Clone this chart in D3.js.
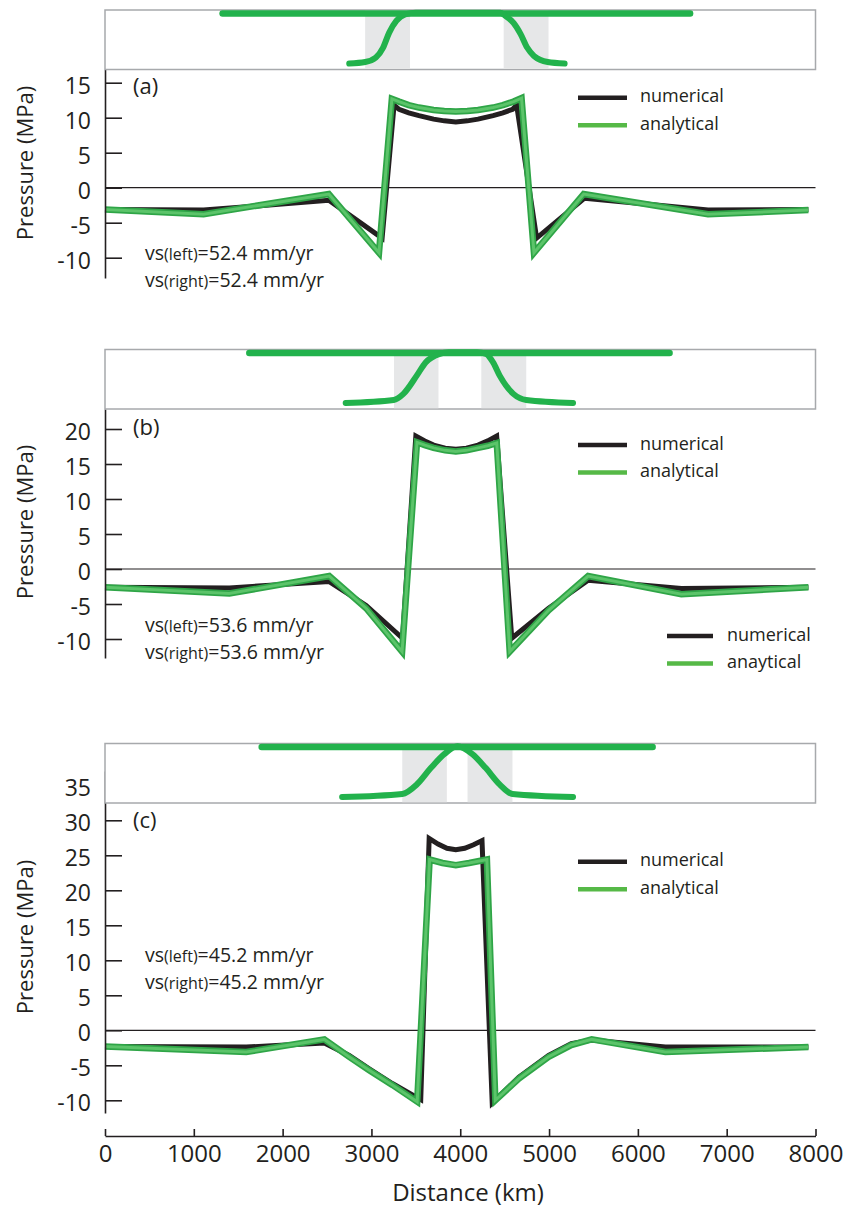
<!DOCTYPE html>
<html>
<head>
<meta charset="utf-8">
<script src="https://cdn.jsdelivr.net/npm/d3@7"></script>
<style>
  body { margin: 0; background: #fff; }
  svg { display: block; }
  text { font-family: "Open Sans", sans-serif; fill: #231f20; }
</style>
</head>
<body>
<div id="chart"></div>
<script>
// distance in km, pressure in MPa
const distanceTicks = [0, 1000, 2000, 3000, 4000, 5000, 6000, 7000, 8000];
const panelLabels = ["(a)", "(b)", "(c)"];
const velocities = ["52.4", "53.6", "45.2"];
const pressureTicksA = [-10, -5, 0, 5, 10, 15];
const pressureTicksB = [-10, -5, 0, 5, 10, 15, 20];
const pressureTicksC = [-10, -5, 0, 5, 10, 15, 20, 25, 30, 35];

const numericalA = [[0,-3.1],[1110,-3.2],[2520,-1.8],[3120,-7.2],[3255,11.8],[3311,11.2],[3420,10.7],[3535,10.3],[3700,9.8],[3820,9.55],[3950,9.4],[4080,9.55],[4200,9.8],[4370,10.3],[4480,10.7],[4590,11.2],[4635,11.8],[4860,-7.2],[5400,-1.5],[6790,-3.2],[7920,-3.1]];
const analyticalA = [[0,-3.1],[1110,-3.8],[2520,-0.9],[3085,-9.3],[3230,12.7],[3311,12.3],[3420,11.8],[3535,11.45],[3700,11.1],[3820,10.95],[3950,10.9],[4080,10.95],[4200,11.1],[4370,11.45],[4480,11.8],[4600,12.3],[4690,12.8],[4830,-9.3],[5390,-0.9],[6790,-3.8],[7920,-3.2]];

const numericalB = [[0,-2.6],[1400,-2.7],[2525,-1.8],[2940,-5.2],[3350,-9.9],[3500,19.0],[3600,18.3],[3700,17.7],[3830,17.25],[3950,17.1],[4070,17.25],[4200,17.7],[4310,18.3],[4410,19.0],[4580,-9.9],[4995,-5.6],[5440,-1.6],[6490,-2.8],[7920,-2.6]];
const analyticalB = [[0,-2.6],[1400,-3.5],[2525,-1.0],[2940,-5.6],[3345,-11.8],[3513,18.1],[3600,17.7],[3700,17.3],[3830,16.95],[3950,16.8],[4070,16.95],[4200,17.3],[4310,17.6],[4411,18.0],[4557,-11.8],[4995,-5.9],[5440,-1.0],[6490,-3.6],[7920,-2.6]];

const numericalC = [[0,-2.3],[1590,-2.4],[2470,-1.8],[2750,-3.6],[2975,-5.5],[3235,-7.6],[3555,-9.9],[3650,27.4],[3750,26.6],[3850,26.0],[3950,25.8],[4050,26.0],[4150,26.5],[4245,27.1],[4360,-10.4],[4660,-6.7],[4995,-3.6],[5250,-1.9],[5480,-1.4],[6310,-2.4],[7920,-2.4]];
const analyticalC = [[0,-2.3],[1590,-3.1],[2470,-1.3],[2750,-3.8],[2975,-5.7],[3235,-7.8],[3515,-10.2],[3655,24.4],[3800,23.9],[3950,23.6],[4100,23.9],[4300,24.4],[4395,-10.0],[4660,-6.9],[4995,-3.8],[5250,-2.1],[5480,-1.3],[6310,-3.1],[7920,-2.4]];

// inset sketches: [distance, relative height 0..1]
const insetBarA = [1324, 6588];
const insetBandsA = [[2929, 3434], [4489, 4994]];
const insetCurveA = [[2750,0],[2930,0.03],[3050,0.12],[3130,0.31],[3200,0.61],[3280,0.84],[3380,0.97],[3500,1],[4450,1],[4500,0.95],[4600,0.8],[4680,0.58],[4755,0.31],[4830,0.15],[4985,0.03],[5175,0]];
const insetBarB = [1625, 6357];
const insetBandsB = [[3254, 3755], [4237, 4743]];
const insetCurveB = [[2710,0],[3250,0.06],[3360,0.18],[3510,0.54],[3610,0.8],[3770,0.97],[3870,1],[4190,1],[4290,0.97],[4370,0.8],[4444,0.54],[4598,0.18],[4743,0.06],[5270,0]];
const insetBarC = [1764, 6166];
const insetBandsC = [[3347, 3849], [4082, 4588]];
const insetCurveC = [[2670,0],[3347,0.06],[3513,0.25],[3668,0.57],[3823,0.85],[3968,1],[4133,0.85],[4288,0.57],[4443,0.25],[4588,0.06],[5270,0]];

const W = 854, H = 1209;
const ink = "#231f20";
const svg = d3.select("#chart").append("svg").attr("width", W).attr("height", H);

const x = d3.scaleLinear().domain([0, 8000]).range([105, 815.5]);
const pxPerMPa = 7;

const panels = [
  { label: panelLabels[0], v: velocities[0], ticks: pressureTicksA, num: numericalA, ana: analyticalA,
    bar: insetBarA, bands: insetBandsA, curve: insetCurveA,
    boxTop: 10, boxBottom: 69.5, zeroY: 187.7, axisTop: 69.5, axisBottom: 278,
    labelY: 94, titleY: 163, legendY: 97.7, noteY: 260, noteGap: 26.5 },
  { label: panelLabels[1], v: velocities[1], ticks: pressureTicksB, num: numericalB, ana: analyticalB,
    bar: insetBarB, bands: insetBandsB, curve: insetCurveB,
    boxTop: 349.5, boxBottom: 409, zeroY: 569, axisTop: 409, axisBottom: 658,
    labelY: 435, titleY: 522, legendY: 445, noteY: 632, noteGap: 26.5, extraLegend: true },
  { label: panelLabels[2], v: velocities[2], ticks: pressureTicksC, num: numericalC, ana: analyticalC,
    bar: insetBarC, bands: insetBandsC, curve: insetCurveC,
    boxTop: 743.5, boxBottom: 803, zeroY: 1030.3, axisTop: 771, axisBottom: 1113,
    labelY: 828, titleY: 937, legendY: 861.7, noteY: 962.3, noteGap: 27 }
];

function legend(g, lx, ly, textX, names) {
  g.append("line").attr("x1", lx[0]).attr("x2", lx[1]).attr("y1", ly).attr("y2", ly)
    .attr("stroke", ink).attr("stroke-width", 4.5);
  g.append("text").attr("x", textX).attr("y", ly + 4.5).attr("font-size", 18).text(names[0]);
  g.append("line").attr("x1", lx[0]).attr("x2", lx[1]).attr("y1", ly + 27.5).attr("y2", ly + 27.5)
    .attr("stroke", "#56b947").attr("stroke-width", 4.5);
  g.append("text").attr("x", textX).attr("y", ly + 32).attr("font-size", 18).text(names[1]);
}

panels.forEach(p => {
  const g = svg.append("g");
  const y = d3.scaleLinear()
    .domain([(p.zeroY - p.axisBottom) / pxPerMPa, (p.zeroY - p.axisTop) / pxPerMPa])
    .range([p.axisBottom, p.axisTop]);

  // zero line
  g.append("line").attr("x1", x(0)).attr("x2", x(8000)).attr("y1", y(0)).attr("y2", y(0))
    .attr("stroke", ink).attr("stroke-width", 1.2);

  const line = d3.line().x(d => x(d[0])).y(d => y(d[1]));
  g.append("path").attr("d", line(p.num)).attr("fill", "none")
    .attr("stroke", ink).attr("stroke-width", 5).attr("stroke-linejoin", "miter");
  g.append("path").attr("d", line(p.ana)).attr("fill", "none")
    .attr("stroke", "#2fa547").attr("stroke-width", 6.5).attr("stroke-linejoin", "miter");
  g.append("path").attr("d", line(p.ana)).attr("fill", "none")
    .attr("stroke", "#5cc46a").attr("stroke-width", 3).attr("stroke-linejoin", "miter");

  // y axis
  const ax = g.append("g").attr("transform", `translate(${x(0)},0)`)
    .call(d3.axisLeft(y).tickValues(p.ticks).tickSizeInner(-17).tickSizeOuter(0)
      .tickPadding(14).tickFormat(d => String(d)));
  ax.select(".domain").attr("stroke", ink).attr("stroke-width", 1.6);
  ax.selectAll(".tick line").attr("stroke", ink).attr("stroke-width", 1.6);
  ax.selectAll(".tick text").attr("font-size", 23).attr("font-family", "Open Sans")
    .attr("fill", ink).attr("dy", "0.45em");

  g.append("text")
    .attr("transform", `translate(33,${p.titleY}) rotate(-90)`)
    .attr("text-anchor", "middle").attr("font-size", 22).text("Pressure (MPa)");

  // inset sketch
  const yi = d3.scaleLinear().domain([0, 1]).range([p.boxTop + 53.5, p.boxTop + 2.8]);
  g.append("rect").attr("x", x(0)).attr("y", p.boxTop)
    .attr("width", x(8000) - x(0)).attr("height", p.boxBottom - p.boxTop)
    .attr("fill", "#fff").attr("stroke", "#a7a9ac").attr("stroke-width", 1.5);
  g.selectAll(".band").data(p.bands).enter().append("rect")
    .attr("x", d => x(d[0])).attr("width", d => x(d[1]) - x(d[0]))
    .attr("y", p.boxTop + 0.75).attr("height", p.boxBottom - p.boxTop - 1.5)
    .attr("fill", "#e6e7e8");
  g.append("line").attr("x1", x(p.bar[0])).attr("x2", x(p.bar[1]))
    .attr("y1", yi(0.985)).attr("y2", yi(0.985))
    .attr("stroke", "#22b24c").attr("stroke-width", 6.5).attr("stroke-linecap", "round");
  g.append("path").attr("d", d3.line().curve(d3.curveMonotoneX)
      .x(d => x(d[0])).y(d => yi(d[1]))(p.curve))
    .attr("fill", "none").attr("stroke", "#22b24c").attr("stroke-width", 6)
    .attr("stroke-linecap", "round");

  g.append("text").attr("x", 133).attr("y", p.labelY).attr("font-size", 22).text(p.label);

  legend(g, [578, 627], p.legendY, 640, ["numerical", "analytical"]);
  if (p.extraLegend) legend(g, [667, 713], 636, 727, ["numerical", "anaytical"]);

  [["(left)", 0], ["(right)", 1]].forEach(([side, i]) => {
    const t = g.append("text").attr("x", 145).attr("y", p.noteY + i * p.noteGap).attr("font-size", 19.5);
    t.append("tspan").text("vs");
    t.append("tspan").attr("font-size", 16).text(side);
    t.append("tspan").text(`=${p.v} mm/yr`);
  });
});

// shared distance axis
const xa = svg.append("g").attr("transform", "translate(0,1136)")
  .call(d3.axisBottom(x).tickValues(distanceTicks).tickSizeInner(-7).tickSizeOuter(0)
    .tickPadding(9).tickFormat(d => String(d)));
xa.select(".domain").attr("stroke", ink).attr("stroke-width", 1.6);
xa.selectAll(".tick line").attr("stroke", ink).attr("stroke-width", 1.6);
xa.selectAll(".tick text").attr("font-size", 24).attr("font-family", "Open Sans").attr("fill", ink);

svg.append("text").attr("x", 468).attr("y", 1201).attr("text-anchor", "middle")
  .attr("font-size", 24).text("Distance (km)");
</script>
</body>
</html>
